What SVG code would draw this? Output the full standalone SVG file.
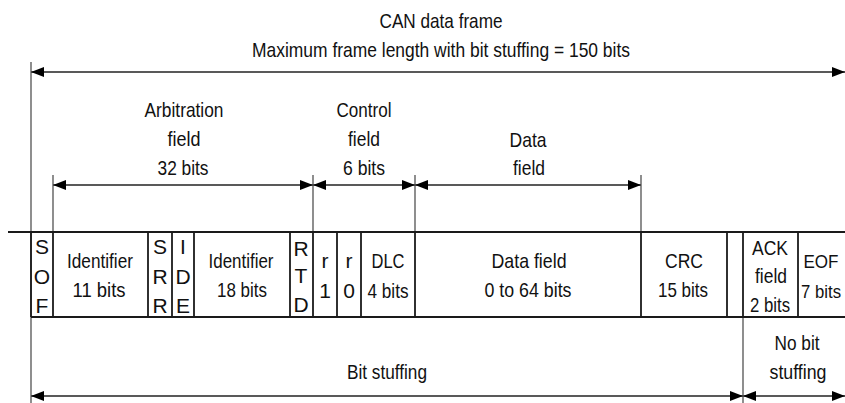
<svg xmlns="http://www.w3.org/2000/svg" width="845" height="403" viewBox="0 0 845 403">
<style>
text{font-family:"Liberation Sans",Arial,sans-serif;font-size:21px;fill:#111;text-anchor:middle}
.sm{font-size:19px}
.fr{stroke:#1a1a1a;stroke-width:1.8;fill:none}
.dl{stroke:#222;stroke-width:1.6;fill:none}
.vl{stroke:#444;stroke-width:1.2;fill:none}
</style>
<defs>
<marker id="ah" markerUnits="userSpaceOnUse" markerWidth="14" markerHeight="11" refX="13" refY="5" orient="auto-start-reverse" viewBox="0 0 14 10">
<path d="M0,0 L13,5 L0,10 Z" fill="#000"/>
</marker>
</defs>
<rect width="845" height="403" fill="#fff"/>

<g id="title">
<text x="441" y="28" textLength="123" lengthAdjust="spacingAndGlyphs">CAN data frame</text>
<text x="441" y="57" textLength="378" lengthAdjust="spacingAndGlyphs">Maximum frame length with bit stuffing = 150 bits</text>
</g>

<g id="connectors">
<line class="dl" x1="31" y1="72" x2="845" y2="72" marker-start="url(#ah)" marker-end="url(#ah)"/>
<line class="dl" x1="53" y1="185" x2="313" y2="185" marker-start="url(#ah)" marker-end="url(#ah)"/>
<line class="dl" x1="313" y1="185" x2="415" y2="185" marker-start="url(#ah)" marker-end="url(#ah)"/>
<line class="dl" x1="415" y1="185" x2="641" y2="185" marker-start="url(#ah)" marker-end="url(#ah)"/>
<line class="dl" x1="31" y1="396" x2="743" y2="396" marker-start="url(#ah)" marker-end="url(#ah)"/>
<line class="dl" x1="743" y1="396" x2="845" y2="396" marker-start="url(#ah)" marker-end="url(#ah)"/>
<line class="vl" x1="31" y1="62" x2="31" y2="403"/>
<line class="vl" x1="53" y1="175" x2="53" y2="232"/>
<line class="vl" x1="313" y1="175" x2="313" y2="232"/>
<line class="vl" x1="415" y1="175" x2="415" y2="232"/>
<line class="vl" x1="641" y1="175" x2="641" y2="232"/>
<line class="vl" x1="743" y1="317" x2="743" y2="403"/>
</g>

<g id="arbitration-label">
<text x="184" y="117" textLength="79" lengthAdjust="spacingAndGlyphs">Arbitration</text>
<text x="184" y="146" textLength="33" lengthAdjust="spacingAndGlyphs">field</text>
<text x="183" y="175" textLength="51" lengthAdjust="spacingAndGlyphs">32 bits</text>
</g>
<g id="control-label">
<text x="364" y="117" textLength="55" lengthAdjust="spacingAndGlyphs">Control</text>
<text x="364" y="146" textLength="32" lengthAdjust="spacingAndGlyphs">field</text>
<text x="364" y="175" textLength="42" lengthAdjust="spacingAndGlyphs">6 bits</text>
</g>
<g id="data-label">
<text x="528" y="147" textLength="37" lengthAdjust="spacingAndGlyphs">Data</text>
<text x="529" y="175" textLength="32" lengthAdjust="spacingAndGlyphs">field</text>
</g>

<g id="frame">
<line class="fr" x1="8" y1="232" x2="845" y2="232"/>
<line class="fr" x1="31" y1="317" x2="845" y2="317"/>
<line class="fr" x1="31" y1="232" x2="31" y2="317"/>
</g>

<g id="sof">
<line class="fr" x1="53" y1="232" x2="53" y2="317"/>
<text x="42" y="254">S</text><text x="42" y="284">O</text><text x="42" y="313">F</text>
</g>
<g id="identifier11">
<line class="fr" x1="148" y1="232" x2="148" y2="317"/>
<text x="100" y="268" textLength="66" lengthAdjust="spacingAndGlyphs">Identifier</text>
<text x="99" y="297" textLength="53" lengthAdjust="spacingAndGlyphs">11 bits</text>
</g>
<g id="srr">
<line class="fr" x1="172" y1="232" x2="172" y2="317"/>
<text x="160" y="254">S</text><text x="160" y="284">R</text><text x="160" y="313">R</text>
</g>
<g id="ide">
<line class="fr" x1="194" y1="232" x2="194" y2="317"/>
<text x="183" y="254">I</text><text x="183" y="284">D</text><text x="183" y="313">E</text>
</g>
<g id="identifier18">
<line class="fr" x1="290" y1="232" x2="290" y2="317"/>
<text x="241" y="268" textLength="65" lengthAdjust="spacingAndGlyphs">Identifier</text>
<text x="242" y="297" textLength="50" lengthAdjust="spacingAndGlyphs">18 bits</text>
</g>
<g id="rtd">
<line class="fr" x1="313" y1="232" x2="313" y2="317"/>
<text x="301" y="256">R</text><text x="301" y="283">T</text><text x="301" y="312">D</text>
</g>
<g id="r1">
<line class="fr" x1="337" y1="232" x2="337" y2="317"/>
<text x="325" y="268">r</text><text x="325" y="298">1</text>
</g>
<g id="r0">
<line class="fr" x1="361" y1="232" x2="361" y2="317"/>
<text x="349" y="268">r</text><text x="349" y="298">0</text>
</g>
<g id="dlc">
<line class="fr" x1="415" y1="232" x2="415" y2="317"/>
<text x="388" y="268" textLength="33" lengthAdjust="spacingAndGlyphs">DLC</text>
<text x="388" y="298" textLength="41" lengthAdjust="spacingAndGlyphs">4 bits</text>
</g>
<g id="datafield">
<line class="fr" x1="641" y1="232" x2="641" y2="317"/>
<text x="529" y="268" textLength="75" lengthAdjust="spacingAndGlyphs">Data field</text>
<text x="528" y="297" textLength="87" lengthAdjust="spacingAndGlyphs">0 to 64 bits</text>
</g>
<g id="crc">
<line class="fr" x1="727" y1="232" x2="727" y2="317"/>
<text x="684" y="268" textLength="38" lengthAdjust="spacingAndGlyphs">CRC</text>
<text x="683" y="297" textLength="50" lengthAdjust="spacingAndGlyphs">15 bits</text>
</g>
<g id="delimiter">
<line class="fr" x1="743" y1="232" x2="743" y2="317"/>
</g>
<g id="ack">
<line class="fr" x1="798" y1="232" x2="798" y2="317"/>
<text x="770" y="255" textLength="36" lengthAdjust="spacingAndGlyphs">ACK</text>
<text x="771" y="283" textLength="32" lengthAdjust="spacingAndGlyphs">field</text>
<text x="770" y="312" textLength="40" lengthAdjust="spacingAndGlyphs">2 bits</text>
</g>
<g id="eof">
<text class="sm" x="821" y="268" textLength="35" lengthAdjust="spacingAndGlyphs">EOF</text>
<text class="sm" x="821" y="298" textLength="40" lengthAdjust="spacingAndGlyphs">7 bits</text>
</g>

<g id="bit-stuffing">
<text x="387" y="379" textLength="80" lengthAdjust="spacingAndGlyphs">Bit stuffing</text>
</g>
<g id="no-bit-stuffing">
<text x="797" y="350" textLength="45" lengthAdjust="spacingAndGlyphs">No bit</text>
<text x="798" y="379" textLength="57" lengthAdjust="spacingAndGlyphs">stuffing</text>
</g>
</svg>
